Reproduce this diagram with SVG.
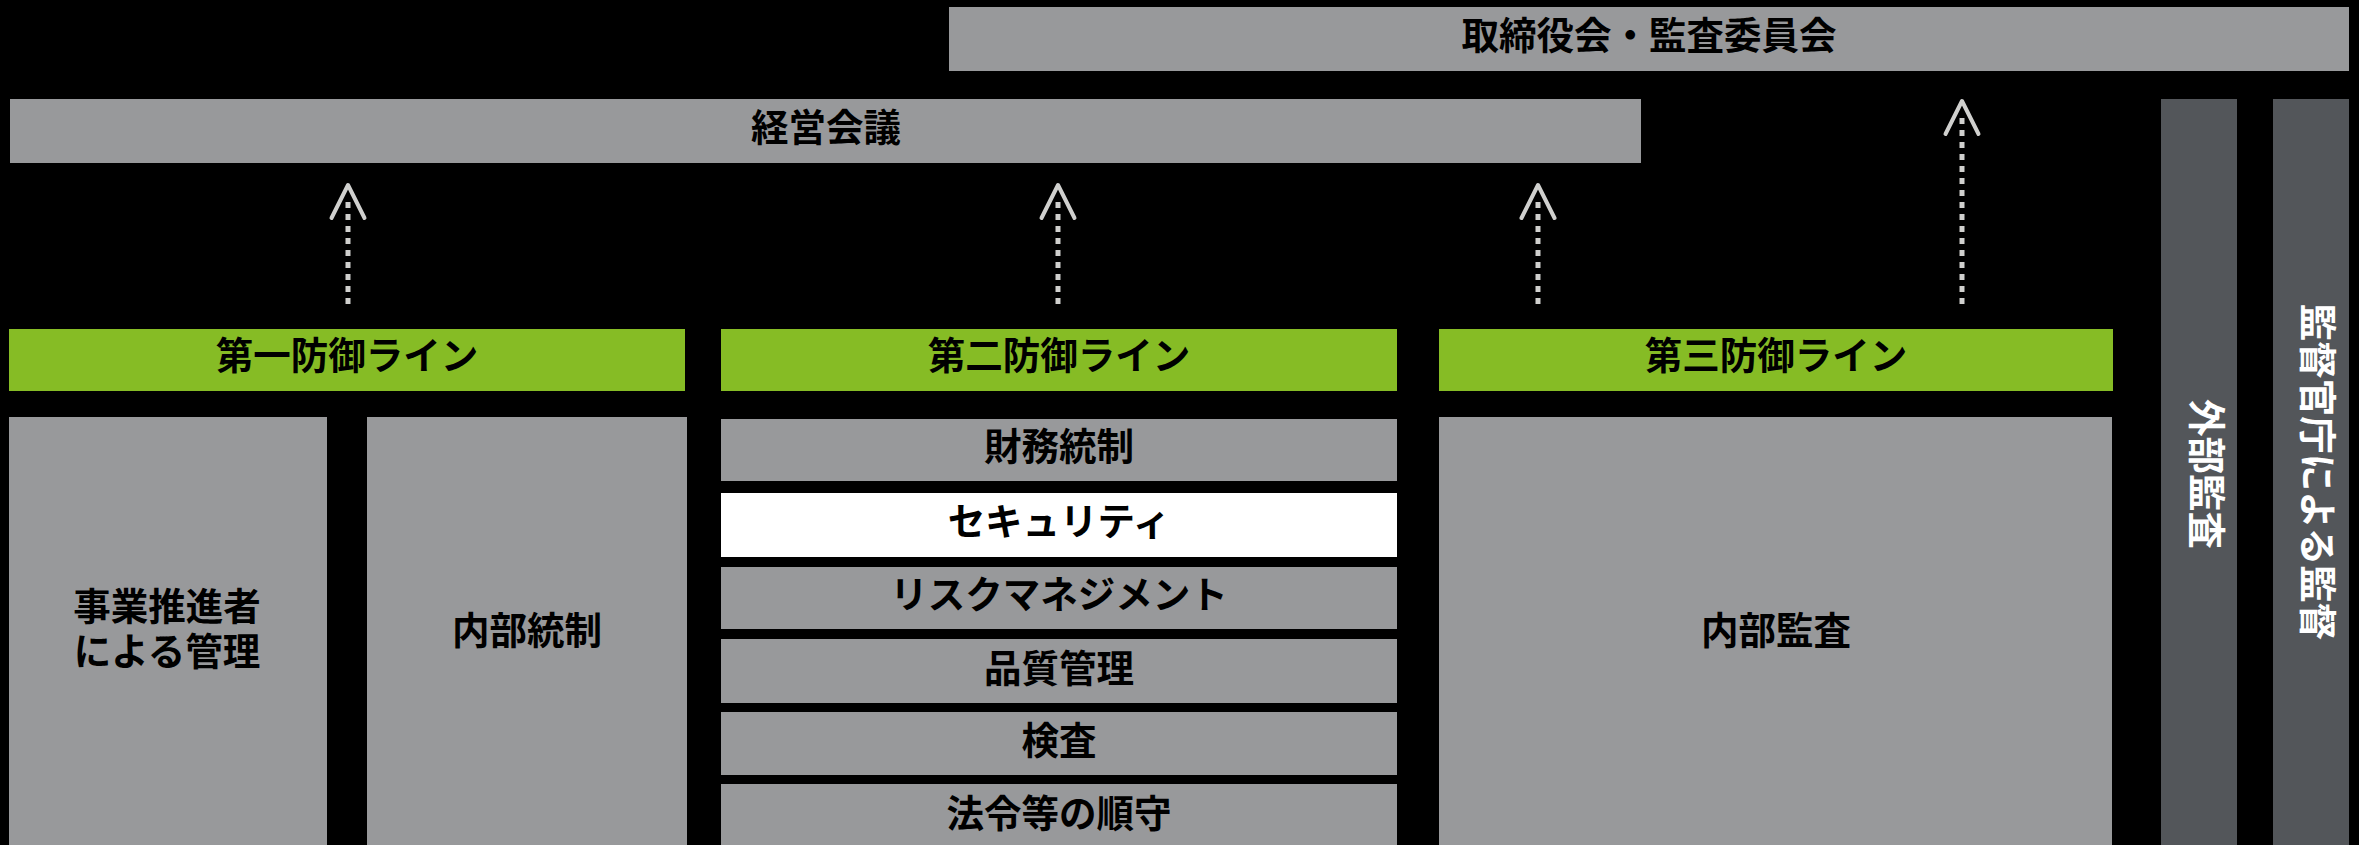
<svg xmlns="http://www.w3.org/2000/svg" width="2359" height="845" viewBox="0 0 2359 845">
  <style>
    .bg { fill: #000000; }
    .gray { fill: #98999b; }
    .green { fill: #86bc25; }
    .white { fill: #ffffff; }
    .dark { fill: #53565a; }
    .t { font-family: "Noto Sans CJK JP", "Noto Sans", sans-serif; font-weight: 700; font-size: 37.5px; text-anchor: middle; fill: #000000; }
    .tw { fill: #ffffff; }
    .dash { fill: none; stroke: #d0d0ce; stroke-width: 5; stroke-dasharray: 6 6; }
    .head { fill: none; stroke: #d0d0ce; stroke-width: 4; stroke-linecap: round; stroke-linejoin: round; }
  </style>
  <rect class="bg" x="0" y="0" width="2359" height="845"/>

  <g id="board">
    <rect class="gray" x="949" y="7" width="1400" height="64"/>
    <text class="t" x="1649" y="49">取締役会・監査委員会</text>
  </g>
  <g id="management">
    <rect class="gray" x="10" y="99" width="1631" height="64"/>
    <text class="t" x="826" y="141">経営会議</text>
  </g>

  <g id="line1">
    <rect class="green" x="9" y="329" width="676" height="62"/>
    <text class="t" x="347" y="369">第一防御ライン</text>
  </g>
  <g id="line2">
    <rect class="green" x="721" y="329" width="676" height="62"/>
    <text class="t" x="1059" y="369">第二防御ライン</text>
  </g>
  <g id="line3">
    <rect class="green" x="1439" y="329" width="674" height="62"/>
    <text class="t" x="1776" y="369">第三防御ライン</text>
  </g>

  <g id="business">
    <rect class="gray" x="9" y="417" width="318" height="428"/>
    <text class="t" x="167" y="620"><tspan x="167" y="620">事業推進者</tspan><tspan x="167" y="665">による管理</tspan></text>
  </g>
  <g id="internal-control">
    <rect class="gray" x="367" y="417" width="320" height="428"/>
    <text class="t" x="527" y="644">内部統制</text>
  </g>

  <g id="finance">
    <rect class="gray" x="721" y="419" width="676" height="62"/>
    <text class="t" x="1059" y="460">財務統制</text>
  </g>
  <g id="security">
    <rect class="white" x="721" y="493" width="676" height="64"/>
    <text class="t" x="1059" y="535">セキュリティ</text>
  </g>
  <g id="risk">
    <rect class="gray" x="721" y="567" width="676" height="62"/>
    <text class="t" x="1059" y="608">リスクマネジメント</text>
  </g>
  <g id="quality">
    <rect class="gray" x="721" y="639" width="676" height="64"/>
    <text class="t" x="1059" y="682">品質管理</text>
  </g>
  <g id="inspection">
    <rect class="gray" x="721" y="712" width="676" height="63"/>
    <text class="t" x="1059" y="754">検査</text>
  </g>
  <g id="compliance">
    <rect class="gray" x="721" y="784" width="676" height="61"/>
    <text class="t" x="1059" y="827">法令等の順守</text>
  </g>

  <g id="internal-audit">
    <rect class="gray" x="1439" y="417" width="673" height="428"/>
    <text class="t" x="1776" y="644">内部監査</text>
  </g>

  <g id="external-audit">
    <rect class="dark" x="2161" y="99" width="76" height="746"/>
    <text class="t tw" transform="translate(2207 474) rotate(90)" x="0" y="14">外部監査</text>
  </g>
  <g id="regulator">
    <rect class="dark" x="2273" y="99" width="76" height="746"/>
    <text class="t tw" transform="translate(2318 472) rotate(90)" x="0" y="14">監督官庁による監督</text>
  </g>

  <g id="connectors">
    <path class="dash" d="M348 304 V200"/>
    <path class="head" d="M331.5 218 L348 185 L364.5 218"/>
    <path class="dash" d="M1058 304 V200"/>
    <path class="head" d="M1041.5 218 L1058 185 L1074.5 218"/>
    <path class="dash" d="M1538 304 V200"/>
    <path class="head" d="M1521.5 218 L1538 185 L1554.5 218"/>
    <path class="dash" d="M1962 304 V116"/>
    <path class="head" d="M1945.5 134 L1962 101 L1978.5 134"/>
  </g>
</svg>
